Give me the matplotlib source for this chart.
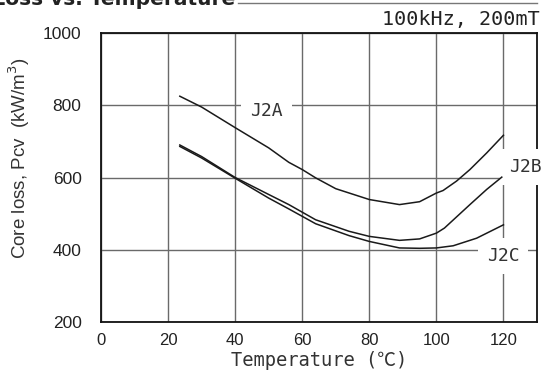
import matplotlib
matplotlib.use("Agg")
import matplotlib.pyplot as plt
from matplotlib.lines import Line2D

# Data
j2a_t = [23.5, 30, 40, 50, 56, 60, 64, 70, 80, 89, 95, 100, 102, 106, 110, 115, 120]
j2a_p = [825, 795, 738, 682, 642, 622, 599, 569, 539, 525, 533, 557, 564, 590, 622, 668, 717]
j2b_t = [23.5, 30, 40, 50, 56, 64, 74, 80, 89, 95, 100, 102.4, 110, 115, 119.5]
j2b_p = [690, 658, 600, 553, 525, 483, 451, 437, 426, 430, 446, 460, 525, 567, 601]
j2c_t = [23.5, 30, 40, 50, 56, 64, 74, 80, 89, 95, 100, 105, 112, 120]
j2c_p = [686, 654, 598, 543, 513, 472, 439, 423, 405, 404, 405, 411, 432, 469]
series = [("J2A", j2a_t, j2a_p), ("J2B", j2b_t, j2b_p), ("J2C", j2c_t, j2c_p)]
label_pos = {"J2A": (49.4, 783), "J2B": (126.5, 630), "J2C": (119.9, 382)}
xticks = [0, 20, 40, 60, 80, 100, 120]
yticks = [200, 400, 600, 800, 1000]

W, H = 545, 371
fig = plt.figure(figsize=(W / 100, H / 100), dpi=100)
ax = fig.add_axes([101 / W, 1 - 322 / H, (537 - 101) / W, (322 - 33) / H])

ax.set_xlim(0, 130)
ax.set_ylim(200, 1000)
ax.set_xticks(xticks)
ax.set_yticks(yticks)
ax.tick_params(length=0, labelsize=12, pad=8)
for lab in ax.get_xticklabels() + ax.get_yticklabels():
    lab.set_fontfamily("Liberation Sans")
    lab.set_color("#222222")
ax.tick_params(axis="y", pad=14, labelsize=12.5)

ax.set_axisbelow(True)
ax.grid(True, color="#6a6a6a", linewidth=1.0)
for s in ax.spines.values():
    s.set_linewidth(1.3)
    s.set_color("#111111")

for name, t, p in series:
    ax.plot(t, p, color="#1a1a1a", linewidth=1.1, zorder=4)
    x, y = label_pos[name]
    ax.text(x, y, name, ha="center", va="center", fontsize=13,
            family=["DejaVu Sans Mono"], color="#333333", zorder=3, clip_on=False,
            bbox=dict(boxstyle="square,pad=0.5", facecolor="white", edgecolor="none"))

mono = ["DejaVu Sans Mono", "Noto Sans CJK KR"]
ax.set_xlabel("Temperature (℃)", fontsize=13.5, family=mono, color="#333333", labelpad=2)
fig.text(19 / W, 1 - 158 / H, "Core loss, Pcv  (kW/m$^{3}$)", rotation=90,
         ha="center", va="center", fontsize=13.5, family="Liberation Sans", color="#333333")
fig.text(540 / W, 1 - 20 / H, "100kHz, 200mT", ha="right", va="center",
         fontsize=14.5, family=mono, color="#222222")

fig.text(235 / W, 1 - 5 / H, "Core Loss vs. Temperature", ha="right", va="baseline",
         fontsize=14.5, fontweight="bold", family="DejaVu Sans", color="#222222")
fig.add_artist(Line2D([238 / W, 537 / W], [1 - 3 / H, 1 - 3 / H],
                      color="#777777", linewidth=1.0, transform=fig.transFigure))

fig.savefig("out.png", dpi=100)
